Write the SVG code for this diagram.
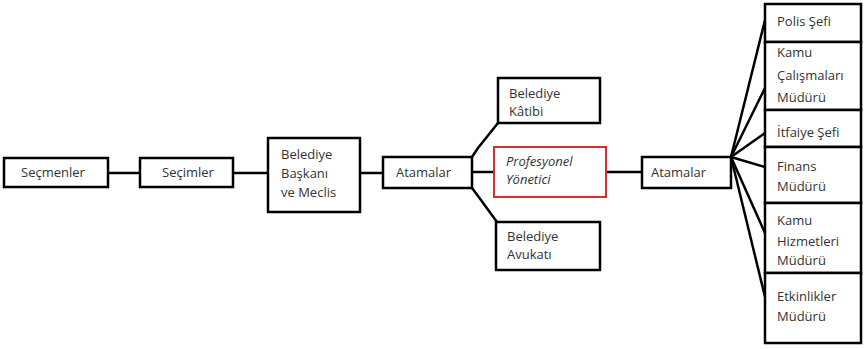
<svg xmlns="http://www.w3.org/2000/svg" width="867" height="349" viewBox="0 0 867 349">
<style>
.box{fill:#fff;stroke:#000;stroke-width:2.5}
.red{fill:#fff;stroke:#d03030;stroke-width:2}
.t{font-family:"Open Sans","Liberation Sans",sans-serif;font-size:13px;fill:#333}
.i{font-style:italic}
.c{fill:none;stroke:#000;stroke-width:2.5}
</style>
<rect width="867" height="349" fill="#fff"/>
<g id="connectors">
<line class="c" x1="108" y1="173" x2="140" y2="173"/>
<line class="c" x1="233" y1="173" x2="268" y2="173"/>
<line class="c" x1="360" y1="173" x2="383" y2="173"/>
<polyline class="c" points="472,157 478,148 498,123"/>
<polyline class="c" points="472,188 478,196 497,222"/>
<line class="c" x1="472" y1="172" x2="494" y2="172"/>
<line class="c" x1="606" y1="172" x2="642" y2="172"/>
<line class="c" x1="731" y1="157" x2="765" y2="20"/>
<line class="c" x1="731" y1="157" x2="765" y2="88"/>
<line class="c" x1="731" y1="157" x2="765" y2="133"/>
<line class="c" x1="731" y1="157" x2="765" y2="167"/>
<line class="c" x1="731" y1="157" x2="765" y2="233"/>
<line class="c" x1="731" y1="157" x2="765" y2="297"/>
</g>
<g id="secmenler"><rect class="box" x="4" y="158" width="104" height="29"/><text class="t" x="21" y="177">Seçmenler</text></g>
<g id="secimler"><rect class="box" x="140" y="158" width="93" height="29"/><text class="t" x="162" y="177">Seçimler</text></g>
<g id="baskan"><rect class="box" x="268" y="138" width="92" height="74"/><text class="t" x="281" y="159">Belediye</text><text class="t" x="281" y="178">Başkanı</text><text class="t" x="281" y="197">ve Meclis</text></g>
<g id="atamalar1"><rect class="box" x="383" y="157" width="89" height="31"/><text class="t" x="396" y="177">Atamalar</text></g>
<g id="katip"><rect class="box" x="498" y="78" width="102" height="45"/><text class="t" x="509" y="98">Belediye</text><text class="t" x="509" y="116">Kâtibi</text></g>
<g id="yonetici"><rect class="red" x="494" y="147" width="112" height="50"/><text class="t i" x="506" y="166">Profesyonel</text><text class="t i" x="506" y="184">Yönetici</text></g>
<g id="avukat"><rect class="box" x="496" y="222" width="104" height="48"/><text class="t" x="507" y="241">Belediye</text><text class="t" x="507" y="259">Avukatı</text></g>
<g id="atamalar2"><rect class="box" x="642" y="157" width="89" height="31"/><text class="t" x="651" y="177">Atamalar</text></g>
<g id="polis"><rect class="box" x="765" y="4" width="96" height="38"/><text class="t" x="777" y="26">Polis Şefi</text></g>
<g id="kamucalisma"><rect class="box" x="765" y="42" width="96" height="68"/><text class="t" x="777" y="57">Kamu</text><text class="t" x="777" y="80">Çalışmaları</text><text class="t" x="777" y="102">Müdürü</text></g>
<g id="itfaiye"><rect class="box" x="765" y="110" width="96" height="37"/><text class="t" x="777" y="137">İtfaiye Şefi</text></g>
<g id="finans"><rect class="box" x="765" y="147" width="96" height="56"/><text class="t" x="777" y="171">Finans</text><text class="t" x="777" y="191">Müdürü</text></g>
<g id="kamuhizmet"><rect class="box" x="765" y="203" width="96" height="70"/><text class="t" x="777" y="225">Kamu</text><text class="t" x="777" y="246">Hizmetleri</text><text class="t" x="777" y="265">Müdürü</text></g>
<g id="etkinlik"><rect class="box" x="765" y="273" width="96" height="70"/><text class="t" x="777" y="301">Etkinlikler</text><text class="t" x="777" y="321">Müdürü</text></g>
</svg>
